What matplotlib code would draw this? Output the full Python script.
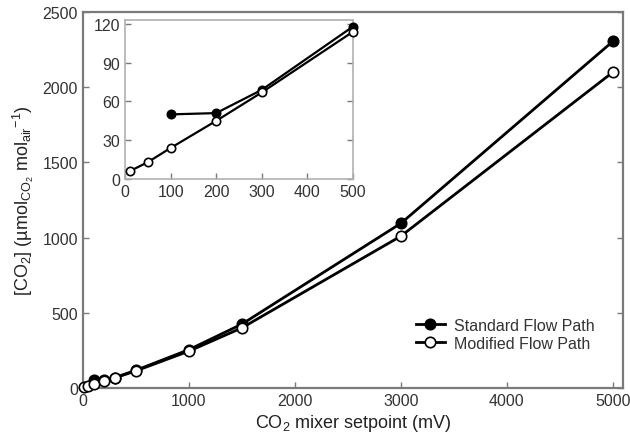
import matplotlib
matplotlib.use("Agg")
import matplotlib.pyplot as plt

plt.rcParams['font.family'] = ['Liberation Sans', 'DejaVu Sans']
plt.rcParams['mathtext.fontset'] = 'custom'
plt.rcParams['mathtext.rm'] = 'Liberation Sans'
plt.rcParams['mathtext.it'] = 'Liberation Sans:italic'

# setpoints (mV) and measured [CO2]
std_x = [100, 200, 300, 500, 1000, 1500, 3000, 5000]
std_y = [50, 51, 69, 118, 255, 425, 1095, 2305]
mod_x = [10, 50, 100, 200, 300, 500, 1000, 1500, 3000, 5000]
mod_y = [6, 13, 24, 45, 67, 114, 245, 400, 1010, 2100]

inset_xticks = [0, 100, 200, 300, 400, 500]
inset_yticks = [0, 30, 60, 90, 120]
main_xticks = [0, 1000, 2000, 3000, 4000, 5000]
main_yticks = [0, 500, 1000, 1500, 2000, 2500]

SPINE = '#7a7a7a'


def style_axes(ax, lw, size):
    for s in ax.spines.values():
        s.set_color(SPINE)
        s.set_linewidth(lw)
    ax.tick_params(direction='in', right=True, color=SPINE, width=1.0,
                   length=4, labelsize=size, colors='#333333')


def draw(ax, ms, lw, xmax):
    # lines clipped to the axes, markers allowed to sit on the spines
    for xs, ys, fc, lab in [(std_x, std_y, 'black', 'Standard Flow Path'),
                            (mod_x, mod_y, 'white', 'Modified Flow Path')]:
        z = 4 if fc == 'white' else 3
        ax.plot(xs, ys, '-', color='black', lw=lw, zorder=z)
        px = [x for x in xs if x <= xmax]
        py = [y for x, y in zip(xs, ys) if x <= xmax]
        ax.plot(px, py, 'o', mfc=fc, mec='black', mew=1.2, ms=ms,
                clip_on=False, zorder=z)
        ax.plot([], [], '-o', color='black', mfc=fc, mec='black', mew=1.2,
                ms=ms, lw=lw, label=lab)


fig = plt.figure(figsize=(6.3, 4.39), dpi=100)
ax = fig.add_axes([0.1317, 0.1139, 0.857, 0.8565])
draw(ax, 7.5, 2.0, 5094)
ax.set_xlim(0, 5094)
ax.set_ylim(0, 2500)
ax.set_xticks(main_xticks)
ax.set_yticks(main_yticks)
style_axes(ax, 1.6, 11.5)
ax.set_xlabel('CO$_2$ mixer setpoint (mV)', fontsize=13, color='#222222', labelpad=3)
ax.set_ylabel('[CO$_2$] (µmol$_{\\mathrm{CO_2}}$ mol$_{\\mathrm{air}}$$^{-1}$)',
              fontsize=13, color='#222222', labelpad=5)
leg = ax.legend(loc='lower right', bbox_to_anchor=(0.975, 0.06), frameon=False,
                fontsize=11.5, handlelength=1.8, handletextpad=0.6, labelspacing=0.2)
for t in leg.get_texts():
    t.set_color('#333333')

ins = fig.add_axes([0.1984, 0.59, 0.3619, 0.362])
draw(ins, 6, 1.6, 500)
ins.set_xlim(0, 500)
ins.set_ylim(0, 123)
ins.set_xticks(inset_xticks)
ins.set_yticks(inset_yticks)
style_axes(ins, 1.2, 11.5)
for s in ins.spines.values():
    s.set_color('#b0b0b0')

fig.savefig('out.png', dpi=100)
